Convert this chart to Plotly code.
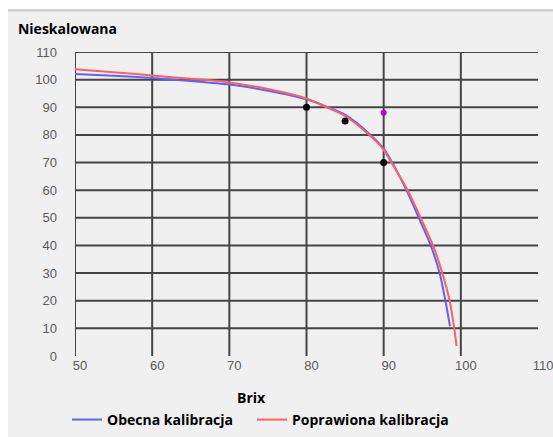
import plotly.graph_objects as go

# Obecna kalibracja (blue)
obecna_brix = [50, 55, 60, 65, 70, 75, 80, 82.6, 85, 88.3, 90, 91.1, 92.95, 94.55,
               96.1, 97.25, 98.0, 98.6]
obecna_val = [102.0, 101.4, 100.6, 99.5, 98.2, 96.0, 92.9, 90.2, 87.3, 80.0, 75.0, 70.0,
              60.0, 50.0, 40.0, 30.0, 20.0, 10.7]

# Poprawiona kalibracja (red)
poprawiona_brix = [50, 55, 60, 65, 70, 75, 80, 82.6, 85, 88.0, 90, 91.0, 93.1, 94.8,
                   96.4, 97.6, 98.55, 99.15, 99.45]
poprawiona_val = [103.8, 102.7, 101.5, 100.3, 99.0, 96.6, 93.2, 90.0, 86.9, 80.3, 74.6, 70.0,
                  60.0, 50.0, 40.0, 30.0, 20.0, 10.0, 3.6]

# measured points
pts_brix = [80, 85, 90]
pts_val = [90, 85, 70]
extra_brix = [90]
extra_val = [88]

x_ticks = [50, 60, 70, 80, 90, 100, 110]
y_ticks = [0, 10, 20, 30, 40, 50, 60, 70, 80, 90, 100, 110]

BOLD = dict(family="Open Sans", size=14, color="black", weight="bold")
TICK = dict(family="Liberation Sans", size=13, color="#5a5a5a")
GRID = dict(color="#454545", width=2)

fig = go.Figure()
fig.add_trace(go.Scatter(x=obecna_brix, y=obecna_val, mode="lines", line_shape="spline",
                         line=dict(color="#6060ff", width=2, smoothing=0.8),
                         name="Obecna kalibracja", legend="legend"))
fig.add_trace(go.Scatter(x=poprawiona_brix, y=poprawiona_val, mode="lines", line_shape="spline",
                         line=dict(color="#ff6060", width=2, smoothing=0.8),
                         name="Poprawiona kalibracja", legend="legend2"))
fig.add_trace(go.Scatter(x=pts_brix, y=pts_val, mode="markers",
                         marker=dict(color="black", size=7), showlegend=False))
fig.add_trace(go.Scatter(x=extra_brix, y=extra_val, mode="markers",
                         marker=dict(color="#c000c0", size=6), showlegend=False))

# grid: no line on the right edge (110) or on the bottom (0)
for xv in x_ticks[:-1]:
    fig.add_shape(type="line", x0=xv, x1=xv, y0=y_ticks[0], y1=y_ticks[-1],
                  line=GRID, layer="below")
for yv in y_ticks[1:]:
    fig.add_shape(type="line", x0=x_ticks[0], x1=x_ticks[-1], y0=yv, y1=yv,
                  line=GRID, layer="below")

# white frame strips + thin border at top of the panel
fig.add_shape(type="rect", xref="paper", yref="paper", x0=-0.17, x1=-0.1447, y0=-0.3, y1=1.2,
              fillcolor="white", line_width=0, layer="below")
fig.add_shape(type="rect", xref="paper", yref="paper", x0=-0.17, x1=1.05, y0=1.1414, y1=1.2,
              fillcolor="white", line_width=0, layer="below")
fig.add_shape(type="line", xref="paper", yref="paper", x0=-0.1447, x1=1.05, y0=1.1365, y1=1.1365,
              line=dict(color="#c8c8c8", width=2))

legend_common = dict(orientation="h", xref="container", yref="container", xanchor="left",
                     y=0.039, yanchor="middle", bgcolor="rgba(0,0,0,0)", font=BOLD)

fig.update_layout(
    width=553, height=437,
    margin=dict(l=75, r=15, t=52, b=81, autoexpand=False),
    paper_bgcolor="#f0f0f0", plot_bgcolor="#f0f0f0",
    title=dict(text="Nieskalowana", x=0.0325, xanchor="left", y=0.934, yanchor="middle", font=BOLD),
    xaxis=dict(range=[50, 110], tickvals=x_ticks, showgrid=False, zeroline=False, showline=False,
               ticks="", ticklabelshift=5, ticklabeloverflow="allow", automargin=False,
               tickfont=TICK),
    yaxis=dict(range=[0, 110], tickvals=y_ticks, showgrid=False, zeroline=False, showline=False,
               ticks="", ticklabelstandoff=17, ticklabeloverflow="allow", automargin=False,
               tickfont=TICK),
    legend=dict(x=67 / 553, **legend_common),
    legend2=dict(x=252 / 553, **legend_common),
    annotations=[dict(text="Brix", x=0.382, y=-0.135, xref="paper", yref="paper",
                      yanchor="middle", showarrow=False, font=BOLD)],
)

fig.write_html("out.html", config={"displayModeBar": False},
               post_script="document.body.style.margin='0';")
